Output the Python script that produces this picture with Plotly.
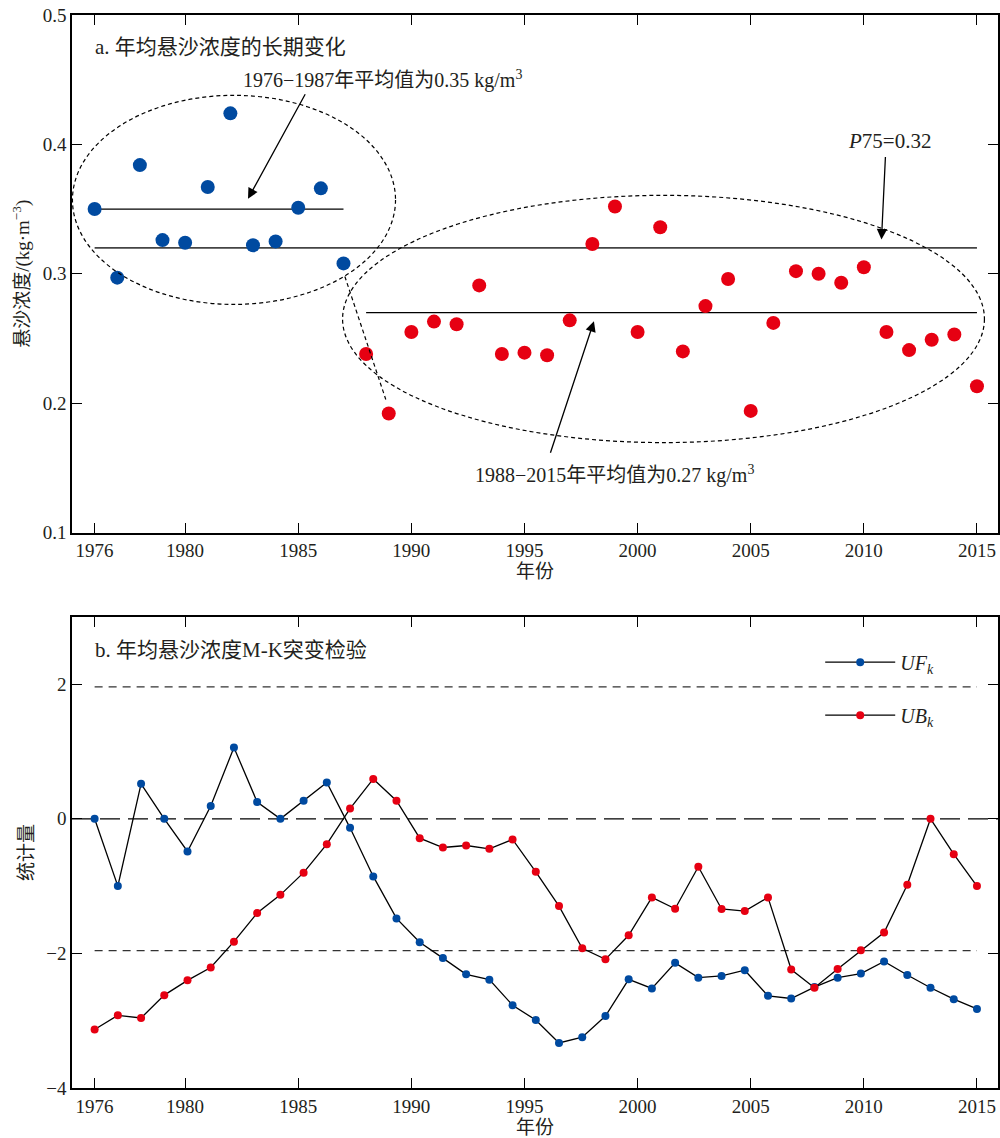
import numpy as np
import plotly.graph_objects as go

# ---------------- data ----------------
years_a = list(range(1976, 2016))
conc = [0.350, 0.297, 0.384, 0.326, 0.324, 0.367, 0.424, 0.322, 0.325, 0.351, 0.366, 0.308,
        0.238, 0.192, 0.255, 0.263, 0.261, 0.291, 0.238, 0.239, 0.237, 0.264, 0.323, 0.352,
        0.255, 0.336, 0.240, 0.275, 0.296, 0.194, 0.262, 0.302, 0.300, 0.293, 0.305, 0.255,
        0.241, 0.249, 0.253, 0.213]
split_year = 1987
mean_early = 0.35
mean_late = 0.27
p75 = 0.32

UF = [0, -1.0, 0.52, 0, -0.485, 0.19, 1.06, 0.25, 0, 0.27, 0.54, -0.134, -0.856,
      -1.48, -1.835, -2.07, -2.31, -2.39, -2.77, -2.99, -3.33, -3.245, -2.93, -2.385, -2.52,
      -2.14, -2.36, -2.335, -2.25, -2.63, -2.67, -2.50, -2.36, -2.30, -2.12, -2.32, -2.51, -2.68, -2.825]
UB = [-3.13, -2.92, -2.96, -2.62, -2.40, -2.21, -1.825, -1.40, -1.13, -0.80, -0.377, 0.153, 0.593,
      0.27, -0.287, -0.426, -0.396, -0.445, -0.307, -0.787, -1.297, -1.924, -2.088, -1.73, -1.168,
      -1.336, -0.712, -1.34, -1.37, -1.168, -2.24, -2.51, -2.23, -1.954, -1.69, -0.98, 0, -0.525, -1.0]
year_start, year_end = 1976, 2015
crit = 1.96

x_ticks = [1976, 1980, 1985, 1990, 1995, 2000, 2005, 2010, 2015]

# ---------------- styles ----------------
BLUE = "rgb(0,74,160)"
RED = "rgb(230,0,18)"
TXT = "#231F20"
FONT = "Liberation Serif, Noto Sans CJK SC, serif"
CJK = "Liberation Serif, Noto Sans CJK SC"

x_mk = np.linspace(year_start, year_end, len(UF))
early_x = [y for y in years_a if y <= split_year]
early_y = [c for y, c in zip(years_a, conc) if y <= split_year]
late_x = [y for y in years_a if y > split_year]
late_y = [c for y, c in zip(years_a, conc) if y > split_year]

fig = go.Figure()

# panel a
fig.add_trace(go.Scatter(x=[year_start, year_end], y=[p75, p75], mode="lines",
                         line=dict(color="#444444", width=1.8), showlegend=False, xaxis="x", yaxis="y"))
fig.add_trace(go.Scatter(x=[year_start, split_year], y=[mean_early, mean_early], mode="lines",
                         line=dict(color="black", width=1.3), showlegend=False, xaxis="x", yaxis="y"))
fig.add_trace(go.Scatter(x=[split_year + 1, year_end], y=[mean_late, mean_late], mode="lines",
                         line=dict(color="black", width=1.3), showlegend=False, xaxis="x", yaxis="y"))
fig.add_trace(go.Scatter(x=early_x, y=early_y, mode="markers",
                         marker=dict(color=BLUE, size=14), showlegend=False, xaxis="x", yaxis="y"))
fig.add_trace(go.Scatter(x=late_x, y=late_y, mode="markers",
                         marker=dict(color=RED, size=14), showlegend=False, xaxis="x", yaxis="y"))

# panel b reference lines
fig.add_trace(go.Scatter(x=[1975.0, 2015.93], y=[0, 0], mode="lines",
                         line=dict(color="black", width=1.3, dash="20px,8px"),
                         showlegend=False, xaxis="x2", yaxis="y2"))
for v in (crit, -crit):
    fig.add_trace(go.Scatter(x=[year_start, year_end], y=[v, v], mode="lines",
                             line=dict(color="#333333", width=1.3, dash="8px,6px"),
                             showlegend=False, xaxis="x2", yaxis="y2"))

fig.add_trace(go.Scatter(x=x_mk, y=UF, mode="lines+markers", name="<i>UF<sub>k</sub></i>",
                         line=dict(color="black", width=1.3), marker=dict(color=BLUE, size=8),
                         legendgroup="uf", xaxis="x2", yaxis="y2"))
fig.add_trace(go.Scatter(x=x_mk, y=UB, mode="lines+markers", name="<i>UB<sub>k</sub></i>",
                         line=dict(color="black", width=1.3), marker=dict(color=RED, size=8),
                         legendgroup="ub", xaxis="x2", yaxis="y2"))

axis_common = dict(showline=True, linecolor="black", linewidth=1.5, mirror="ticks",
                   ticks="inside", ticklen=10, tickwidth=1.3, tickcolor="black",
                   showgrid=False, zeroline=False, automargin=False,
                   tickfont=dict(family=FONT, size=19, color=TXT))

fig.update_layout(
    width=1000, height=1138,
    margin=dict(l=72, r=2, t=15, b=50),
    plot_bgcolor="white", paper_bgcolor="white",
    font=dict(family=FONT, color=TXT),
    xaxis=dict(domain=[0, 1], anchor="y", range=[1975.0, 2015.93], tickvals=x_ticks,
               title=dict(text="年份", font=dict(family=CJK, size=19, color=TXT), standoff=2),
               **axis_common),
    yaxis=dict(domain=[0.5177, 1], anchor="x", range=[0.1, 0.5], dtick=0.1, tickformat=".1f",
               title=dict(text="悬沙浓度/(kg·m<sup>−3</sup>)", font=dict(family=CJK, size=19, color=TXT), standoff=8),
               **axis_common),
    xaxis2=dict(domain=[0, 1], anchor="y2", range=[1975.0, 2015.93], tickvals=x_ticks,
                title=dict(text="年份", font=dict(family=CJK, size=19, color=TXT), standoff=2),
                **axis_common),
    yaxis2=dict(domain=[0, 0.439], anchor="x2", range=[-4, 3], tickvals=[-4, -2, 0, 2],
                title=dict(text="统计量", font=dict(family=CJK, size=19, color=TXT), standoff=8),
                **axis_common),
    legend=dict(x=0.808, y=0.415, xanchor="left", yanchor="top", traceorder="grouped",
                tracegroupgap=24, bgcolor="rgba(0,0,0,0)", itemwidth=70,
                font=dict(family=FONT, size=20, color=TXT)),
)

# ellipses and dashed connector (panel a)
ell = dict(type="circle", xref="x", yref="y", line=dict(color="black", width=1.2, dash="4px,3px"))
fig.add_shape(x0=1975.02, x1=1989.3, y0=0.2763, y1=0.4379, **ell)
fig.add_shape(x0=1986.96, x1=2015.33, y0=0.1695, y1=0.3606, **ell)
fig.add_shape(type="line", xref="x", yref="y", x0=1987.06, y0=0.2979, x1=1988.87, y1=0.2028,
              line=dict(color="black", width=1.2, dash="4px,3px"))

# panel labels
fig.add_annotation(text="a. 年均悬沙浓度的长期变化", xref="paper", yref="paper", x=0.0227, y=0.9705,
                   xanchor="left", yanchor="middle", showarrow=False,
                   font=dict(family=CJK, size=21, color=TXT))
fig.add_annotation(text="b. 年均悬沙浓度M-K突变检验", xref="paper", yref="paper", x=0.0227, y=0.408,
                   xanchor="left", yanchor="middle", showarrow=False,
                   font=dict(family=CJK, size=21, color=TXT))

# text annotations
fig.add_annotation(text="1976−1987年平均值为0.35 kg/m<sup>3</sup>", xref="x", yref="y",
                   x=1988.73, y=0.4503, showarrow=False, font=dict(family=CJK, size=20, color=TXT))
fig.add_annotation(text="1988−2015年平均值为0.27 kg/m<sup>3</sup>", xref="x", yref="y",
                   x=1998.99, y=0.1448, showarrow=False, font=dict(family=CJK, size=20, color=TXT))
fig.add_annotation(text="<i>P</i>75=0.32", xref="x", yref="y",
                   x=2011.15, y=0.403, showarrow=False, font=dict(family=FONT, size=21, color=TXT))

# arrows
arr = dict(xref="x", yref="y", text="", showarrow=True, arrowhead=2, arrowsize=1.6,
           arrowwidth=1.3, arrowcolor="black")
fig.add_annotation(x=1982.78, y=0.358, ax=58, ay=-106, **arr)
fig.add_annotation(x=1998.07, y=0.2633, ax=-44, ay=133, **arr)
fig.add_annotation(x=2010.78, y=0.3265, ax=4, ay=-84, **arr)

fig.write_html("out.html")
